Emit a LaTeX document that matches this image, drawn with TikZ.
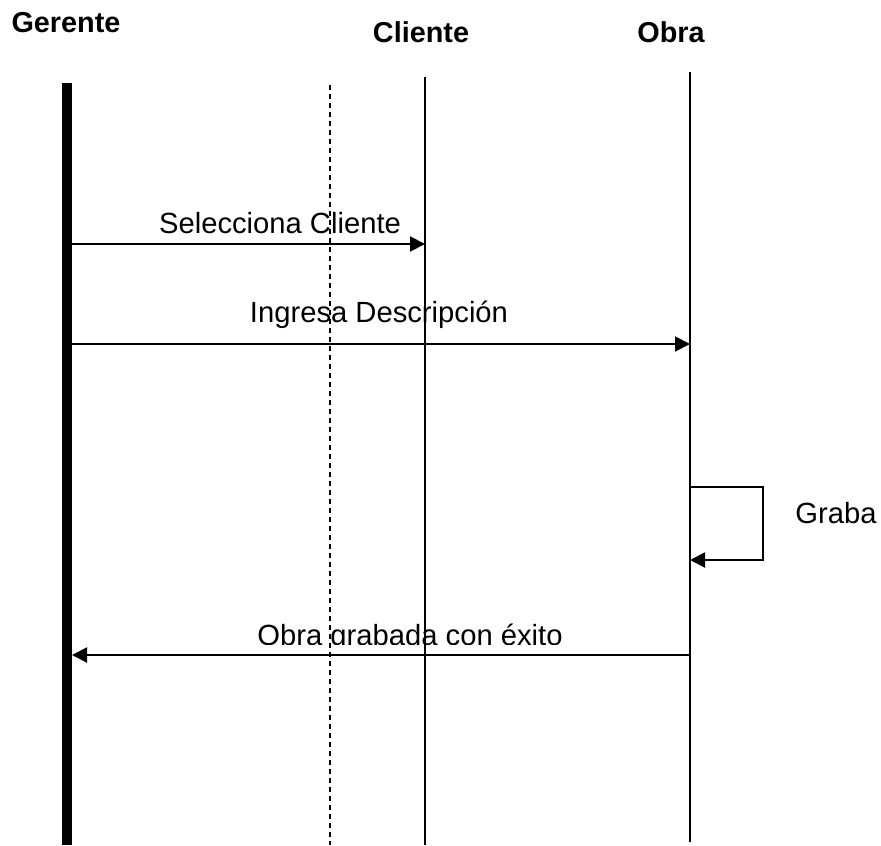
\documentclass[tikz,border=0pt]{standalone}
\usepackage{fontspec}
\setmainfont{Liberation Sans}
\usetikzlibrary{arrows.meta}
\tikzset{
  >={Triangle[length=7.5pt,width=7.5pt]},
  life/.style={line width=1pt,black},
  actor/.style={line width=5pt,black},
  ghost/.style={line width=0.75pt,dash pattern=on 2.7pt off 1.8pt},
  msg/.style={->,line width=1pt},
  head/.style={font=\fontsize{14.4}{17}\selectfont\bfseries,inner sep=0pt,anchor=base},
  lbl/.style={font=\fontsize{14.6}{17}\selectfont,inner sep=0pt,anchor=base},
}
\begin{document}
\begin{tikzpicture}[x=0.5pt,y=-0.5pt]
\useasboundingbox (0,0) rectangle (881,845);
\node[head] (gerente) at (66,33) {Gerente};
\node[head] (cliente) at (421,43) {Cliente};
\node[head] (obra) at (671,43) {Obra};
\coordinate (gTop) at (67,83);  \coordinate (gBot) at (67,845);
\coordinate (dTop) at (330,85); \coordinate (dBot) at (330,845);
\coordinate (cTop) at (425,77); \coordinate (cBot) at (425,845);
\coordinate (oTop) at (690,72); \coordinate (oBot) at (690,842);
\draw[ghost] (dTop) -- (dBot);
\draw[life] (cTop) -- (cBot);
\draw[life] (oTop) -- (oBot);
\coordinate (g1) at (72,244);  \coordinate (c1) at (425,244);
\coordinate (g2) at (72,344);  \coordinate (o2) at (690,344);
\coordinate (o3) at (690,487); \coordinate (o4) at (690,560);
\coordinate (o5) at (690,655); \coordinate (g5) at (72,655);
\draw[msg] (g1) -- (c1);
\draw[msg] (g2) -- (o2);
\draw[msg] (o3) -- ++(73,0) |- (o4);
\draw[msg] (o5) -- (g5);
\draw[actor] (gTop) -- (gBot);
\node[lbl] (selecciona) at (280,233) {Selecciona Cliente};
\node[lbl] (ingresa) at (379,322) {Ingresa Descripción};
\node[lbl] (graba) at (836,523) {Graba};
\begin{scope}
\clip (0,0) rectangle (881,644);
\node[lbl] (grabada) at (410,645) {Obra grabada con éxito};
\end{scope}
\end{tikzpicture}
\end{document}
